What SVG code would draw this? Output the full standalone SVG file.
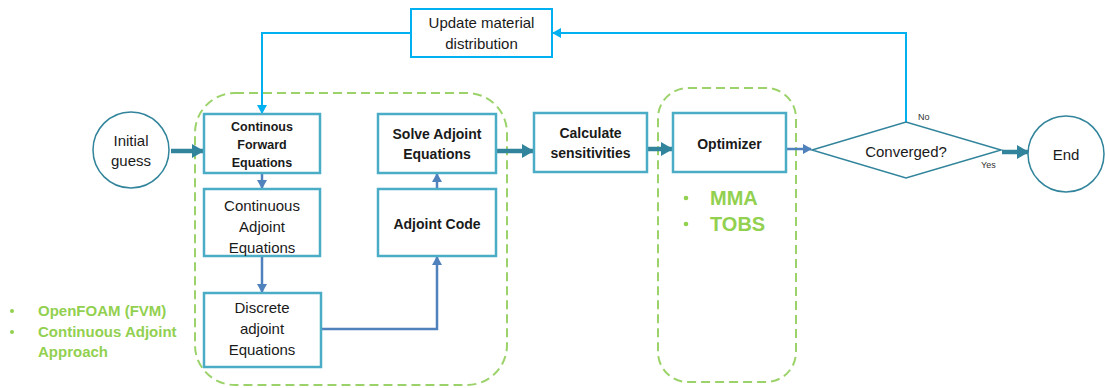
<svg xmlns="http://www.w3.org/2000/svg" width="1105" height="388" viewBox="0 0 1105 388">
<style>
.box{fill:#fff;stroke:#4BACC6;stroke-width:2.5}
.circ{fill:#fff;stroke:#31849B;stroke-width:1.5}
.dia{fill:#fff;stroke:#31849B;stroke-width:1.5}
.grp{fill:none;stroke:#9BD36A;stroke-width:2;stroke-dasharray:9 5}
.t{font-family:"Liberation Sans",Arial,sans-serif;font-size:15px;fill:#1a1a1a;text-anchor:middle}
.b{font-weight:bold;font-size:14px}
.s{font-size:12.5px;font-weight:bold}
.sm{font-family:"Liberation Sans",Arial,sans-serif;font-size:9px;fill:#333}
.g{font-family:"Liberation Sans",Arial,sans-serif;font-weight:bold;fill:#92D050}
.thick{fill:none;stroke:#31849B;stroke-width:4.5}
.blue{fill:none;stroke:#4F81BD;stroke-width:2.5}
.loop{fill:none;stroke:#00B0F0;stroke-width:2}
</style>
<defs>
<marker id="ah" markerUnits="userSpaceOnUse" markerWidth="12" markerHeight="14" refX="11" refY="7" orient="auto"><path d="M0,0 L12,7 L0,14 Z" fill="#31849B"/></marker>
<marker id="ab" markerUnits="userSpaceOnUse" markerWidth="9" markerHeight="10" refX="8" refY="5" orient="auto"><path d="M0,0 L9,5 L0,10 Z" fill="#4F81BD"/></marker>
<marker id="al" markerUnits="userSpaceOnUse" markerWidth="9" markerHeight="10" refX="8" refY="5" orient="auto"><path d="M0,0 L9,5 L0,10 Z" fill="#00B0F0"/></marker>
</defs>

<g id="groups">
<rect class="grp" x="195" y="93" width="312" height="292" rx="40"/>
<rect class="grp" x="658" y="88" width="138" height="294" rx="30"/>
</g>

<g id="connectors">
<path class="thick" d="M171,151 H203" marker-end="url(#ah)"/>
<path class="thick" d="M497,151 H533" marker-end="url(#ah)"/>
<path class="thick" d="M648,149 H672" marker-end="url(#ah)"/>
<path class="blue" d="M787,149 H811" stroke-width="3" marker-end="url(#ab)"/>
<path class="thick" d="M1002,152 H1028" marker-end="url(#ah)"/>
<path class="blue" d="M262,174 V188" marker-end="url(#ab)"/>
<path class="blue" d="M262,257 V292" marker-end="url(#ab)"/>
<path class="blue" d="M322,329 H437 V257" marker-end="url(#ab)"/>
<path class="blue" d="M437,188 V174" marker-end="url(#ab)"/>
<path class="loop" d="M906,122 V33 H553" marker-end="url(#al)"/>
<path class="loop" d="M411,33 H262 V113" marker-end="url(#al)"/>
<text class="sm" x="918" y="120">No</text>
<text class="sm" x="981" y="168">Yes</text>
</g>

<g id="update">
<rect class="box" x="411" y="9" width="141" height="48" stroke="#00B0F0" style="stroke:#00B0F0;stroke-width:2"/>
<text class="t" x="481.5" y="28">Update material</text>
<text class="t" x="481.5" y="49">distribution</text>
</g>

<g id="initial">
<circle class="circ" cx="131" cy="150" r="38"/>
<text class="t" x="131" y="146">Initial</text>
<text class="t" x="131" y="166">guess</text>
</g>

<g id="forward">
<rect class="box" x="204" y="114" width="116" height="59"/>
<text class="t s" x="262" y="131">Continous</text>
<text class="t s" x="262" y="149">Forward</text>
<text class="t s" x="262" y="167">Equations</text>
</g>

<g id="contadj">
<rect class="box" x="204" y="189" width="116" height="67"/>
<text class="t" x="262" y="211">Continuous</text>
<text class="t" x="262" y="232">Adjoint</text>
<text class="t" x="262" y="253">Equations</text>
</g>

<g id="discrete">
<rect class="box" x="204" y="293" width="117" height="74"/>
<text class="t" x="262" y="313">Discrete</text>
<text class="t" x="262" y="334">adjoint</text>
<text class="t" x="262" y="355">Equations</text>
</g>

<g id="solve">
<rect class="box" x="378" y="114" width="118" height="59"/>
<text class="t b" x="437" y="139">Solve Adjoint</text>
<text class="t b" x="437" y="159">Equations</text>
</g>

<g id="adjcode">
<rect class="box" x="378" y="189" width="118" height="67"/>
<text class="t b" x="437" y="229">Adjoint Code</text>
</g>

<g id="calc">
<rect class="box" x="534" y="113" width="113" height="59"/>
<text class="t b" x="590.5" y="138">Calculate</text>
<text class="t b" x="590.5" y="158">sensitivities</text>
</g>

<g id="optimizer">
<rect class="box" x="673" y="113" width="113" height="59"/>
<text class="t b" x="729.5" y="149">Optimizer</text>
</g>

<g id="converged">
<polygon class="dia" points="812,150 906,122 1001,150 906,178"/>
<text class="t" x="906" y="157">Converged?</text>
</g>

<g id="end">
<circle class="circ" cx="1066" cy="154" r="38"/>
<text class="t" x="1066" y="160">End</text>
</g>

<g id="notes">
<circle cx="686" cy="198" r="2.3" fill="#92D050"/>
<text class="g" x="710" y="205" font-size="20">MMA</text>
<circle cx="686" cy="224" r="2.3" fill="#92D050"/>
<text class="g" x="710" y="231" font-size="20">TOBS</text>
<circle cx="12" cy="311" r="2" fill="#92D050"/>
<text class="g" x="38" y="316" font-size="15">OpenFOAM (FVM)</text>
<circle cx="12" cy="332" r="2" fill="#92D050"/>
<text class="g" x="38" y="337" font-size="15">Continuous Adjoint</text>
<text class="g" x="38" y="357" font-size="15">Approach</text>
</g>
</svg>
